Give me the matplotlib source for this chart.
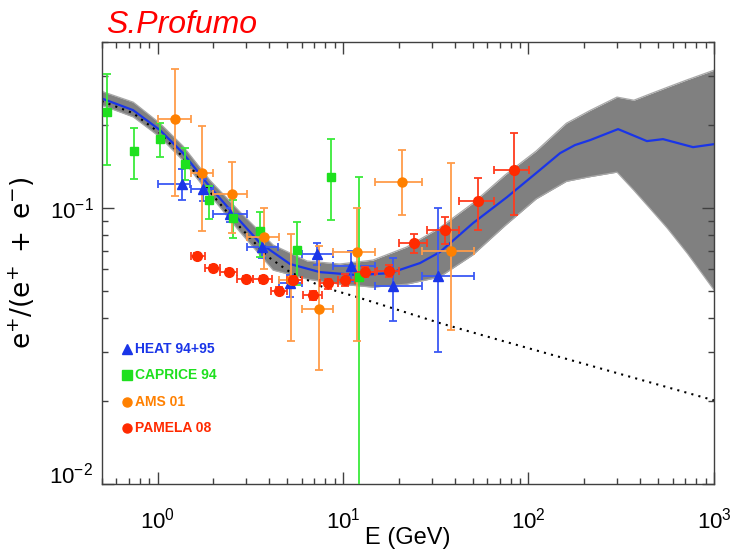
import matplotlib
matplotlib.use("Agg")
import matplotlib.pyplot as plt
import matplotlib.ticker as mticker
import matplotlib.transforms as mtransforms
import numpy as np

plt.rcParams['font.family'] = ['Liberation Sans', 'DejaVu Sans']
plt.rcParams['mathtext.fontset'] = 'custom'
plt.rcParams['mathtext.rm'] = 'Liberation Sans'
plt.rcParams['mathtext.it'] = 'Liberation Sans:italic'
plt.rcParams['mathtext.bf'] = 'Liberation Sans:bold'

# ---------------- data ----------------
# model band (envelope of the grey curves)
band_E = [0.5, 0.74, 1.03, 1.37, 1.92, 2.79, 4.2, 6.4, 9.6, 14.5, 22, 33, 50, 75,
          110, 160, 215, 300, 370, 450, 560, 720, 1000]
band_hi = [0.265, 0.242, 0.203, 0.168, 0.126, 0.0967, 0.0735, 0.0643, 0.0627, 0.0648,
           0.0722, 0.0846, 0.104, 0.132, 0.161, 0.203, 0.226, 0.2525, 0.246, 0.259,
           0.274, 0.292, 0.316]
band_lo = [0.236, 0.214, 0.181, 0.149, 0.1115, 0.0818, 0.0596, 0.0553, 0.053, 0.0517,
           0.053, 0.0562, 0.0676, 0.0866, 0.108, 0.125, 0.130, 0.135, 0.116, 0.100,
           0.0846, 0.0684, 0.0505]

# best-fit (blue) curve
median_E = [0.5, 0.738, 1.031, 1.372, 1.919, 2.55, 3.57, 5.18, 7.52, 11.9, 17.9, 26.0,
            33.3, 50.2, 76.6, 115, 148, 178, 215, 304, 435, 531, 771, 1000]
median_f = [0.2497, 0.2265, 0.1917, 0.1582, 0.1192, 0.0959, 0.0747, 0.0627, 0.0586,
            0.0572, 0.0581, 0.0632, 0.0693, 0.0882, 0.1096, 0.1373, 0.1582, 0.1692,
            0.1764, 0.1933, 0.1749, 0.1778, 0.1663, 0.1705]

# secondary background (dotted)
bg_E = [0.5, 0.738, 1.031, 1.372, 1.919, 2.785, 3.894, 5.18, 7.8, 11.9, 33.3, 70.2, 1000]
bg_f = [0.2442, 0.2209, 0.1869, 0.1530, 0.1143, 0.0853, 0.0670, 0.0586, 0.0517, 0.0476,
        0.0383, 0.0332, 0.0201]

# HEAT 94+95
heat_E = [1.36, 1.76, 2.46, 3.64, 5.18, 7.21, 11.0, 18.5, 32.5]
heat_Elo = [1.0, 1.51, 1.99, 3.03, 4.51, 5.98, 8.88, 14.9, 26.5]
heat_Ehi = [1.5, 2.0, 3.04, 4.48, 5.98, 8.80, 14.9, 26.5, 50.6]
heat_f = [0.122, 0.117, 0.0951, 0.0722, 0.0533, 0.068, 0.0618, 0.0523, 0.0569]
heat_flo = [0.1069, 0.106, 0.089, 0.066, 0.0477, 0.0622, 0.0544, 0.0390, 0.0301]
heat_fhi = [0.138, 0.128, 0.100, 0.079, 0.0572, 0.0745, 0.0700, 0.0657, 0.0997]

# CAPRICE 94
cap_E = [0.536, 0.744, 1.035, 1.40, 1.89, 2.56, 3.56, 5.65, 8.59, 12.15]
cap_f = [0.2234, 0.1613, 0.1774, 0.144, 0.1066, 0.0922, 0.0825, 0.0703, 0.1298, 0.0564]
cap_flo = [0.143, 0.127, 0.1526, 0.1263, 0.0912, 0.0780, 0.0666, 0.0526, 0.0905, 0.005]
cap_fhi = [0.305, 0.195, 0.2026, 0.1645, 0.1204, 0.1069, 0.0970, 0.0890, 0.178, 0.1298]

# AMS 01
ams_E = [1.25, 1.74, 2.51, 3.75, 5.22, 7.45, 11.9, 20.7, 38.4]
ams_Elo = [1.0, 1.51, 2.0, 3.03, 4.51, 5.98, 8.88, 14.9, 26.5]
ams_Ehi = [1.51, 2.0, 3.03, 4.54, 5.98, 8.80, 14.9, 26.5, 50.6]
ams_f = [0.2107, 0.1335, 0.1124, 0.0783, 0.0548, 0.0431, 0.0693, 0.1242, 0.0700]
ams_flo = [0.1105, 0.0825, 0.0810, 0.0600, 0.0330, 0.0259, 0.0330, 0.0943, 0.0362]
ams_fhi = [0.3205, 0.198, 0.1465, 0.0997, 0.0805, 0.0729, 0.0997, 0.162, 0.1452]

# PAMELA 08
pam_E = [1.64, 1.98, 2.43, 3.0, 3.69, 4.52, 5.40, 6.85, 8.33, 10.2, 13.1, 17.6, 24.0,
         35.3, 53.6, 83.2]
pam_Elo = [1.51, 1.80, 2.17, 2.69, 3.28, 4.08, 4.97, 6.12, 7.51, 9.44, 11.6, 15.2, 20.1,
           28.2, 42.2, 65.2]
pam_Ehi = [1.80, 2.17, 2.67, 3.28, 4.13, 4.97, 5.98, 7.67, 9.44, 11.6, 14.9, 20.1, 28.2,
           42.3, 65.0, 100.1]
pam_f = [0.0673, 0.0609, 0.0585, 0.0552, 0.0552, 0.0502, 0.0548, 0.0484, 0.0533, 0.0548,
         0.0586, 0.0593, 0.0747, 0.0833, 0.1063, 0.1373]
pam_flo = [0.0657, 0.0594, 0.0571, 0.0538, 0.0537, 0.0487, 0.0530, 0.0466, 0.0511, 0.0522,
           0.0561, 0.0563, 0.0685, 0.0741, 0.0833, 0.0943]
pam_fhi = [0.0690, 0.0624, 0.0600, 0.0566, 0.0567, 0.0517, 0.0566, 0.0502, 0.0555, 0.0575,
           0.0613, 0.0622, 0.0805, 0.0930, 0.1288, 0.1864]

legend_labels = ['HEAT 94+95', 'CAPRICE 94', 'AMS 01', 'PAMELA 08']

# ---------------- plot ----------------
fig = plt.figure(figsize=(7.32, 5.56), dpi=100)
ax = fig.add_axes([0.1389, 0.1295, 0.8365, 0.795])
ax.set_xscale('log')
ax.set_yscale('log')
ax.set_xlim(0.5, 1000)
ax.set_ylim(0.01, 0.4)

ax.fill_between(band_E, band_lo, band_hi, color='#808080', lw=0, zorder=1)
ax.plot(band_E, band_hi, color='#a8a8a8', lw=0.9, zorder=1.1)
ax.plot(band_E, band_lo, color='#a8a8a8', lw=0.9, zorder=1.1)
ax.plot(bg_E, bg_f, color='black', lw=1.5, linestyle=(0, (1, 2.5)), zorder=1.5)
ax.plot(median_E, median_f, color='#1a35e8', lw=1.6, zorder=2)


def draw(E, f, flo, fhi, Elo, Ehi, mcol, ecol, marker, ms):
    E = np.asarray(E); f = np.asarray(f)
    yerr = [f - np.asarray(flo), np.asarray(fhi) - f]
    xerr = None
    if Elo is not None:
        xerr = [E - np.asarray(Elo), np.asarray(Ehi) - E]
    ax.errorbar(E, f, yerr=yerr, xerr=xerr, fmt='none', ecolor=ecol, elinewidth=1.3,
                capsize=3, capthick=1.3, zorder=3)
    ax.plot(E, f, linestyle='none', marker=marker, ms=ms, color=mcol, mec=mcol, zorder=4)


draw(heat_E, heat_f, heat_flo, heat_fhi, heat_Elo, heat_Ehi, '#1a35e8', '#3a58f5', '^', 6.5)
draw(cap_E, cap_f, cap_flo, cap_fhi, None, None, '#1ee01e', '#3aea3a', 's', 6)
draw(ams_E, ams_f, ams_flo, ams_fhi, ams_Elo, ams_Ehi, '#ff8000', '#ff9c4a', 'o', 6.5)
draw(pam_E, pam_f, pam_flo, pam_fhi, pam_Elo, pam_Ehi, '#ff2a00', '#ff3c1e', 'o', 7)

# legend (text style)
leg_cols = ['#1a35e8', '#1ee01e', '#ff8000', '#ff2a00']
leg_marks = ['^', 's', 'o', 'o']
leg_y = [0.3054, 0.2466, 0.1855, 0.1267]
for lab, c, m, yy in zip(legend_labels, leg_cols, leg_marks, leg_y):
    ax.plot([0.0413], [yy], marker=m, color=c, ms=6.5, transform=ax.transAxes,
            clip_on=False, zorder=5)
    ax.text(0.0544, yy, lab, color=c, fontsize=10, fontweight='bold',
            transform=ax.transAxes, va='center', ha='left')

# axes styling
for s in ax.spines.values():
    s.set_color('#404040')
    s.set_linewidth(1.0)
ax.tick_params(which='both', direction='in', top=True, right=True, color='#404040',
               width=1.0)
ax.tick_params(which='major', length=8.5, labelsize=16)
ax.tick_params(which='minor', length=4.5)
ax.tick_params(axis='x', which='major', pad=17)
ax.tick_params(axis='y', which='major', pad=6)

# y tick labels: the bottom one (10^-2) sits just above the axis
ax.yaxis.set_major_locator(mticker.FixedLocator([0.01, 0.1]))
ax.yaxis.set_major_formatter(mticker.FixedFormatter(['', r'$\mathdefault{10^{-1}}$']))
ax.text(-8.5 / 612.3, 0.01, r'$\mathdefault{10^{-2}}$', fontsize=16, ha='right',
        va='baseline', transform=mtransforms.blended_transform_factory(ax.transAxes, ax.transData))

ax.set_xlabel('E (GeV)', fontsize=17)
ax.xaxis.set_label_coords(0.5, -0.098)
ax.set_ylabel(r'$\mathregular{e^{+}/(e^{+}\ +\ e^{-})}$', fontsize=19, family='DejaVu Sans')
ax.yaxis.set_label_coords(-0.106, 0.5)

fig.text(106 / 732, 1 - 32.7 / 556, 'S.Profumo', color='#ff0000', fontsize=23,
         style='italic', ha='left', va='baseline')

fig.savefig('out.png', dpi=100)
